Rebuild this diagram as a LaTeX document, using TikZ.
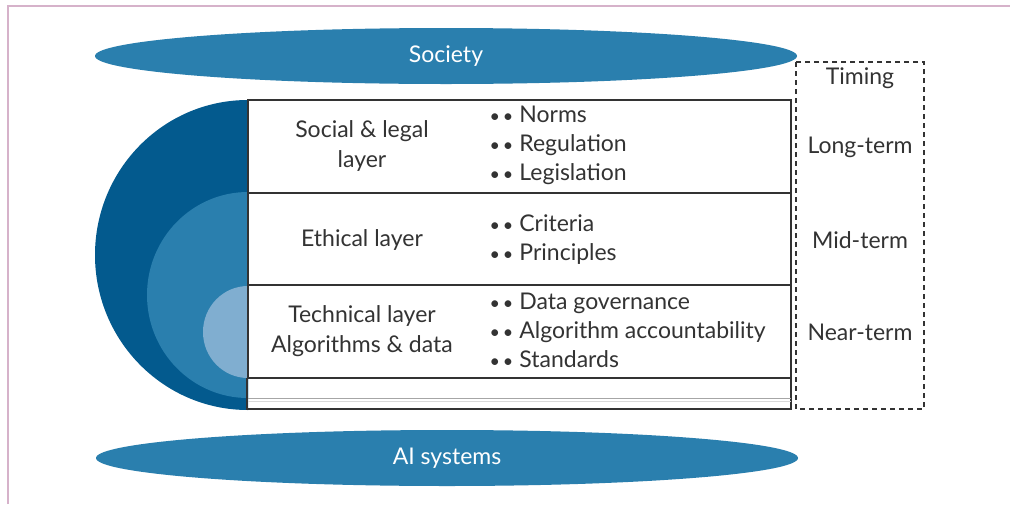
\documentclass[tikz,border=0pt]{standalone}
\usepackage{fontspec}
\setmainfont{Lato}
\usetikzlibrary{positioning, shapes.geometric}
\definecolor{skyband}{HTML}{2A7FAE}
\definecolor{deepblue}{HTML}{035A8E}
\definecolor{midblue}{HTML}{2A7FAE}
\definecolor{paleblue}{HTML}{80AED0}
\definecolor{inkgray}{HTML}{333333}
\definecolor{framepink}{HTML}{D6B2CA}
\newcommand{\dotpair}{{\fontsize{18}{18}\selectfont•\hspace{3pt}•}\hspace{6pt}}

\begin{document}
\begin{tikzpicture}[
    x=1pt, y=-1pt,
    band/.style={ellipse, fill=skyband, text=white, inner sep=0pt,
                 minimum width=702pt, minimum height=56pt,
                 font=\fontsize{23}{26}\selectfont},
    layer/.style={draw=inkgray, line width=1.6pt, minimum width=543pt,
                  minimum height=92.5pt, inner sep=0pt},
    lname/.style={text=inkgray, align=center,
                  font=\fontsize{23}{29.5}\selectfont},
    items/.style={text=inkgray, align=left, anchor=west,
                  font=\fontsize{23}{29}\selectfont},
    tlabel/.style={text=inkgray, font=\fontsize{23}{29}\selectfont}
]
\useasboundingbox (0,0) rectangle (1010,504);
\fill[white] (0,0) rectangle (1010,504);
\draw[framepink, line width=2pt] (7.5,504) -- (7.5,6) -- (1010,6);

% ---- Nested semicircles ----
\fill[deepblue] (248,100) arc[start angle=90, end angle=270,
      x radius=153pt, y radius=155pt] -- cycle;
\fill[midblue]  (248,192) arc[start angle=90, end angle=270,
      x radius=101pt, y radius=103pt] -- cycle;
\fill[paleblue] (248,286) arc[start angle=90, end angle=270,
      x radius=45pt, y radius=46pt] -- cycle;

% ---- Society / AI systems ----
\node[band] (soc) at (446,56)  {Society};
\node[band] (ais) at (447,458) {AI systems};

% ---- Layers ----
\node[layer, fill=white] (social) at (519.5,146.5) {};
\node[layer, fill=white] (ethic)  at (519.5,239)   {};
\node[layer, fill=white] (tech)   at (519.5,331.5) {};
\draw[inkgray, line width=1.6pt] (tech.south west) rectangle (791,409);
\draw[gray!70, line width=1pt] (248,398) -- (791,398);
\draw[gray!30, line width=0.8pt] (248,401) -- (791,401);

\node[lname] (socname)  at (362,146)   {Social \& legal\\layer};
\node[lname] (ethname)  at (362,240)   {Ethical layer};
\node[lname] (techname) at (362,331)   {Technical layer\\Algorithms \& data};

\node[items] (socitems)  at (486,145)
      {\dotpair Norms\\\dotpair Regulation\\\dotpair Legislation};
\node[items] (ethitems)  at (486,240)
      {\dotpair Criteria\\\dotpair Principles};
\node[items] (techitems) at (486,330.5)
      {\dotpair Data governance\\\dotpair Algorithm accountability\\\dotpair Standards};

% ---- Timing ----
\draw[inkgray, line width=1.4pt, dash pattern=on 5pt off 4pt]
      (796,62) rectangle (924,409);
\node[tlabel] (timing) at (860,78)  {Timing};
\node[tlabel] (long)   at (860,147) {Long-term};
\node[tlabel] (mid)    at (860,240) {Mid-term};
\node[tlabel] (near)   at (860,332) {Near-term};

\end{tikzpicture}
\end{document}
